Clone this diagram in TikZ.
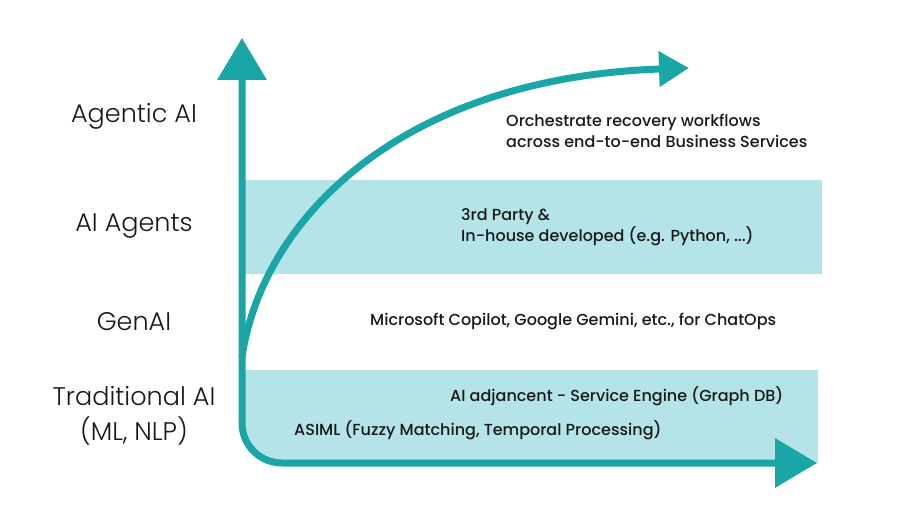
\documentclass[tikz,border=0pt]{standalone}
\usepackage{fontspec}
\setmainfont{Poppins}
\newfontfamily\lightfont{Poppins Light}
\newfontfamily\mediumfont{Poppins Medium}
\usetikzlibrary{arrows.meta}
\definecolor{teal1}{HTML}{1AA6A7}
\definecolor{band1}{HTML}{B4E4E7}
\tikzset{
  axis/.style={draw=teal1, line width=7pt},
  bandbox/.style={fill=band1},
  levellabel/.style={font=\lightfont\fontsize{25.5}{35}\selectfont, text=black!90, align=center, inner sep=0pt},
  desc/.style={font=\mediumfont\fontsize{16}{21}\selectfont, text=black!90, align=left, inner sep=0pt, anchor=west},
}
\begin{document}
\begin{tikzpicture}[x=1pt,y=-1pt]
\useasboundingbox (0,0) rectangle (901,532);
% bands
\fill[bandbox] (242,180) rectangle (822,274);
\fill[bandbox] (818,370) -- (242,370) -- (242,423) .. controls (242,445) and (260,463) .. (282,463) -- (818,463) -- cycle;
% axes
\coordinate (ytip) at (242,38);
\coordinate (corner) at (242,463);
\coordinate (xtip) at (817,463);
\draw[axis, rounded corners=40, {Triangle[length=42pt,width=48pt]}-{Triangle[length=42pt,width=48pt]}] (ytip) -- (corner) -- (xtip);
% growth curve
\coordinate (cstart) at (242,357);
\coordinate (cend) at (689,68);
\draw[axis, -{Triangle[length=30pt,width=34pt]}] (cstart) .. controls (262,220) and (400,78) .. (cend);
% level labels
\node[levellabel] (agentic) at (134,116) {Agentic AI};
\node[levellabel] (agents) at (134,226) {AI Agents};
\node[levellabel] (genai) at (134,322) {GenAI};
\node[levellabel] (trad) at (134,416) {Traditional AI\\(ML, NLP)};
% descriptions
\node[desc] (orch) at (506,131) {Orchestrate recovery workflows\\across end-to-end Business Services};
\node[desc] (third) at (461,227) {3rd Party \&\\In-house developed (e.g. Python, ...)};
\node[desc] (ms) at (370,321) {Microsoft Copilot, Google Gemini, etc., for ChatOps};
\node[desc] (adj) at (450,396) {AI adjancent - Service Engine (Graph DB)};
\node[desc] (asiml) at (294,430) {ASIML (Fuzzy Matching, Temporal Processing)};
\end{tikzpicture}
\end{document}
